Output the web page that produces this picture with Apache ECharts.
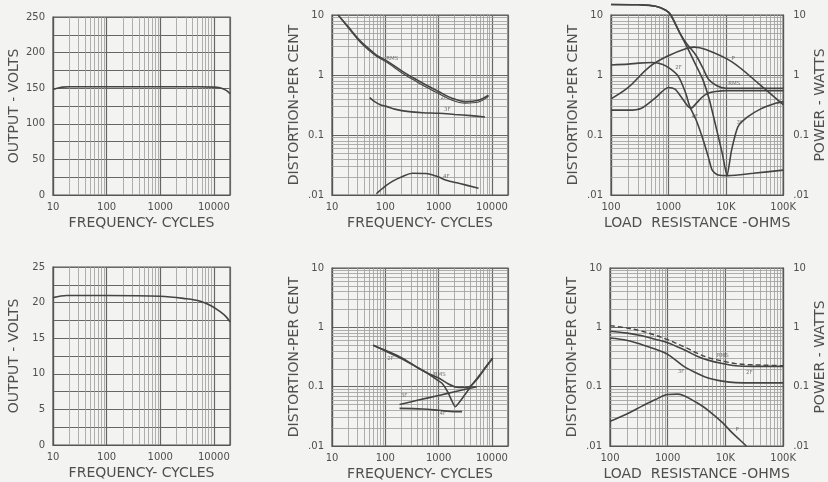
<!DOCTYPE html>
<html><head><meta charset="utf-8">
<script src="https://cdn.jsdelivr.net/npm/echarts@6/dist/echarts.min.js"></script>
<style>html,body{margin:0;padding:0;background:#f3f3f1;}#c{width:828px;height:482px;}</style>
</head><body><div id="c"></div>
<script>
// ---------------- DATA ----------------
const freqTickValues = [10, 100, 1000, 10000];
const freqTickLabels = ['10', '100', '1000', '10000'];
const loadTickValues = [100, 1000, 10000, 100000];
const loadTickLabels = ['100', '1000', '10K', '100K'];
const distTickValues = [0.01, 0.1, 1, 10];
const distTickLabels = ['.01', '0.1', '1', '10'];
const volts250Ticks = [0, 50, 100, 150, 200, 250];
const volts25Ticks = [0, 5, 10, 15, 20, 25];

// Panel A (top left): output volts vs frequency
const aFreq = [10, 12, 15, 20, 50, 100, 1000, 5000, 10000, 13000, 16000, 18500, 20000];
const aVolts = [148, 150, 151.5, 152, 152, 152, 152, 152, 151.5, 150.5, 148, 145, 142];

// Panel B (top middle): distortion vs frequency
const bRmsFreq = [13, 20, 33, 50, 68, 112, 213, 400, 580, 1000, 1780, 3160, 5600, 8600];
const bRmsVal = [10, 6.4, 3.8, 2.7, 2.15, 1.67, 1.14, 0.82, 0.68, 0.53, 0.41, 0.36, 0.38, 0.46];
const b2fFreq = [13, 20, 33, 50, 68, 112, 213, 400, 580, 1000, 1780, 3160, 5600, 8600];
const b2fVal = [10, 6.2, 3.6, 2.55, 2.05, 1.58, 1.06, 0.76, 0.63, 0.49, 0.38, 0.34, 0.355, 0.44];
const b3fFreq = [51, 63, 80, 104, 150, 280, 500, 1000, 2000, 4000, 7400];
const b3fVal = [0.42, 0.36, 0.32, 0.30, 0.27, 0.245, 0.235, 0.23, 0.22, 0.21, 0.20];
const b4fFreq = [68, 100, 138, 200, 325, 575, 1000, 1350, 2500, 5600];
const b4fVal = [0.0105, 0.014, 0.017, 0.020, 0.023, 0.0228, 0.020, 0.0178, 0.0155, 0.013];
const bNoteText = ['RMS', '2F', '3F', '4F'];
const bNoteX = [135, 1250, 1450, 1400];
const bNoteY = [1.9, 0.42, 0.27, 0.02];

// Panel C (top right): distortion / power vs load resistance
const cPowerLoad = [100, 200, 467, 1000, 2000, 2800, 4500, 12600, 40000, 100000];
const cPowerVal = [0.40, 0.62, 1.37, 2.1, 2.75, 2.92, 2.65, 1.67, 0.68, 0.32];
const cRmsLoad = [100, 300, 600, 900, 1100, 1600, 2100, 3000, 4000, 5000, 7000, 10000, 30000, 100000];
const cRmsVal = [15, 14.8, 14, 12, 10, 4.9, 3.3, 2.15, 1.3, 0.85, 0.66, 0.6, 0.6, 0.6];
const cNullLoad = [100, 300, 600, 900, 1100, 1600, 2100, 3100, 4000, 5200, 6700, 8700, 10500, 12600, 16300, 24000, 40000, 76000, 100000];
const cNullVal = [15, 14.8, 14, 12, 10, 4.9, 2.96, 1.38, 0.83, 0.38, 0.14, 0.049, 0.021, 0.056, 0.138, 0.2, 0.27, 0.34, 0.36];
const c2fLoad = [100, 200, 300, 530, 800, 1100, 1500, 2000, 2350, 3030, 4000, 5000, 5800, 7400, 11000, 30000, 100000];
const c2fVal = [1.47, 1.52, 1.58, 1.62, 1.5, 1.25, 0.94, 0.5, 0.30, 0.18, 0.085, 0.042, 0.026, 0.0215, 0.021, 0.023, 0.026];
const c4fLoad = [100, 200, 340, 600, 1000, 1300, 1700, 2200, 2500, 3000, 3900, 5000, 6600, 10000, 100000];
const c4fVal = [0.26, 0.26, 0.28, 0.42, 0.62, 0.58, 0.42, 0.30, 0.28, 0.33, 0.43, 0.5, 0.53, 0.55, 0.55];
const cNoteText = ['P', '2F', 'RMS', '4F', '3F'];
const cNoteX = [13500, 1500, 14000, 2900, 17500];
const cNoteY = [1.9, 1.35, 0.72, 0.2, 0.16];

// Panel D (bottom left): output volts vs frequency
const dFreq = [10, 18, 100, 1000, 3000, 5600, 8700, 13300, 17000, 20000];
const dVolts = [20.7, 21.0, 21.0, 20.9, 20.55, 20.2, 19.6, 18.7, 18.0, 17.3];

// Panel E (bottom middle): distortion vs frequency
const eRmsFreq = [59, 100, 213, 400, 610, 1000, 1500, 2150, 3000, 3800, 5500, 7800, 10300];
const eRmsVal = [0.5, 0.41, 0.3, 0.21, 0.17, 0.14, 0.112, 0.098, 0.097, 0.1, 0.14, 0.22, 0.30];
const e2fFreq = [59, 100, 213, 400, 610, 1000, 1170, 1500, 2050, 3000, 4400, 6000, 10300];
const e2fVal = [0.50, 0.40, 0.29, 0.21, 0.17, 0.125, 0.113, 0.08, 0.046, 0.07, 0.113, 0.16, 0.30];
const e3fFreq = [185, 400, 1000, 2000, 5200];
const e3fVal = [0.05, 0.059, 0.071, 0.082, 0.10];
const e4fFreq = [185, 500, 1000, 2000, 2750];
const e4fVal = [0.043, 0.042, 0.040, 0.038, 0.038];
const eNoteText = ['2F', 'RMS', '3F', '4F'];
const eNoteX = [125, 1050, 225, 1200];
const eNoteY = [0.30, 0.16, 0.072, 0.035];

// Panel F (bottom right): distortion / power vs load resistance
const fRmsLoad = [100, 200, 360, 600, 1000, 2000, 3160, 5000, 8800, 15000, 21500, 50000, 100000];
const fRmsVal = [1.07, 0.97, 0.86, 0.74, 0.62, 0.46, 0.37, 0.31, 0.27, 0.245, 0.237, 0.23, 0.226];
const f2fLoad = [100, 200, 360, 600, 1000, 2000, 3160, 5000, 8800, 15000, 30000, 100000];
const f2fVal = [0.86, 0.8, 0.72, 0.63, 0.55, 0.41, 0.33, 0.28, 0.245, 0.225, 0.22, 0.22];
const f3fLoad = [100, 200, 360, 600, 1000, 1900, 3160, 5000, 8800, 15000, 30000, 100000];
const f3fVal = [0.66, 0.6, 0.51, 0.43, 0.35, 0.22, 0.17, 0.14, 0.124, 0.117, 0.116, 0.116];
const f4fLoad = [100, 200, 360, 600, 1000, 1470, 3160, 5000, 8800, 13000, 18000, 23000];
const f4fVal = [0.026, 0.035, 0.047, 0.06, 0.074, 0.075, 0.054, 0.04, 0.025, 0.0168, 0.0125, 0.01];
const fNoteText = ['RMS', '2F', '3F', 'P'];
const fNoteX = [9000, 26000, 1700, 16000];
const fNoteY = [0.34, 0.17, 0.18, 0.019];

// ---------------- STYLE / HELPERS ----------------
const INK = '#444444';
const TEXT = '#4f4f4f';
const MINOR = '#9c9c9a';
const MAJOR = '#666666';
const FONT = 'DejaVu Sans';

function zip(xs, ys) { return xs.map((x, i) => [x, ys[i]]); }
function labelFor(v, vals, labels) {
  for (let i = 0; i < vals.length; i++) {
    if (Math.abs(v - vals[i]) <= Math.abs(vals[i]) * 1e-6 + 1e-12) return labels[i];
  }
  return '';
}
function logMinor(min, max) {
  const out = [];
  for (let e = Math.floor(Math.log10(min)); e <= Math.ceil(Math.log10(max)); e++) {
    for (let k = 2; k <= 9; k++) {
      const v = k * Math.pow(10, e);
      if (v > min * 1.0001 && v < max * 0.9999) out.push(v);
    }
  }
  return out;
}

const nameStyle = { color: TEXT, fontFamily: FONT, fontSize: 14 };
const labelStyle = { color: TEXT, fontFamily: FONT, fontSize: 10 };

const grids = [
  { left: 53, top: 17, width: 177, height: 178 },
  { left: 332, top: 15, width: 176, height: 180 },
  { left: 611, top: 15, width: 179, height: 180 },
  { left: 53, top: 267, width: 177, height: 178 },
  { left: 332, top: 268, width: 176, height: 178 },
  { left: 610, top: 268, width: 180, height: 179 }
].map(g => Object.assign({ show: true, borderColor: '#555555', borderWidth: 1.2, backgroundColor: 'transparent', containLabel: false }, g));

function logX(gi, min, max, vals, labels, name) {
  return {
    type: 'log', logBase: 10, gridIndex: gi, min, max,
    name, nameLocation: 'middle', nameGap: 21, nameTextStyle: nameStyle,
    axisLine: { show: true, lineStyle: { color: '#555555', width: 1.2 } },
    axisTick: { show: false },
    splitLine: { show: true, lineStyle: { color: MAJOR, width: 1.2 } },
    axisLabel: Object.assign({ margin: 7, formatter: v => labelFor(v, vals, labels), showMinLabel: true, showMaxLabel: true }, labelStyle)
  };
}
function logY(gi, name, pos) {
  return {
    type: 'log', logBase: 10, gridIndex: gi, min: 0.01, max: 10, position: pos || 'left',
    name, nameLocation: 'middle', nameGap: pos === 'right' ? 27 : 31, nameRotate: 90, nameTextStyle: nameStyle,
    axisLine: { show: true, lineStyle: { color: '#555555', width: 1.2 } },
    axisTick: { show: false },
    splitLine: { show: pos !== 'right', lineStyle: { color: MAJOR, width: 1.2 } },
    axisLabel: Object.assign({ margin: pos === 'right' ? 10 : 8, formatter: v => labelFor(v, distTickValues, distTickLabels) }, labelStyle)
  };
}
function linY(gi, max, interval, ticks, name) {
  return {
    type: 'value', gridIndex: gi, min: 0, max, interval,
    name, nameLocation: 'middle', nameGap: 32, nameRotate: 90, nameTextStyle: nameStyle,
    axisLine: { show: true, lineStyle: { color: '#555555', width: 1.2 } },
    axisTick: { show: false },
    splitLine: { show: true, lineStyle: { color: MAJOR, width: 1.1 } },
    axisLabel: Object.assign({ margin: 8, formatter: v => labelFor(v, ticks, ticks.map(String)) }, labelStyle)
  };
}

const xAxes = [
  logX(0, 10, 20000, freqTickValues, freqTickLabels, 'FREQUENCY- CYCLES'),
  logX(1, 10, 20000, freqTickValues, freqTickLabels, 'FREQUENCY- CYCLES'),
  logX(2, 100, 100000, loadTickValues, loadTickLabels, 'LOAD  RESISTANCE -OHMS'),
  logX(3, 10, 20000, freqTickValues, freqTickLabels, 'FREQUENCY- CYCLES'),
  logX(4, 10, 20000, freqTickValues, freqTickLabels, 'FREQUENCY- CYCLES'),
  logX(5, 100, 100000, loadTickValues, loadTickLabels, 'LOAD  RESISTANCE -OHMS')
];
const yAxes = [
  linY(0, 250, 25, volts250Ticks, 'OUTPUT - VOLTS'),
  logY(1, 'DISTORTION-PER CENT'),
  logY(2, 'DISTORTION-PER CENT'),
  linY(3, 25, 2.5, volts25Ticks, 'OUTPUT - VOLTS'),
  logY(4, 'DISTORTION-PER CENT'),
  logY(5, 'DISTORTION-PER CENT'),
  logY(2, 'POWER - WATTS', 'right'),
  logY(5, 'POWER - WATTS', 'right')
];

function gridLines(gi, axis, values, color, width) {
  return {
    type: 'line', xAxisIndex: gi, yAxisIndex: gi, data: [], silent: true, z: 1, animation: false,
    markLine: {
      silent: true, symbol: ['none', 'none'], animation: false, label: { show: false },
      lineStyle: { color, width, type: 'solid' },
      emphasis: { disabled: true },
      data: values.map(v => axis === 'x' ? { xAxis: v } : { yAxis: v })
    }
  };
}
function curve(gi, xs, ys, opts) {
  return Object.assign({
    type: 'line', xAxisIndex: gi, yAxisIndex: gi, data: zip(xs, ys), showSymbol: false, symbol: 'none',
    smooth: 0.35, z: 5, animation: false, silent: true,
    lineStyle: { color: INK, width: 1.6 }
  }, opts || {});
}
function notes(gi, texts, xs, ys) {
  return {
    type: 'scatter', xAxisIndex: gi, yAxisIndex: gi, z: 6, silent: true, animation: false,
    symbolSize: 0, data: xs.map((x, i) => ({ value: [x, ys[i]], name: texts[i] })),
    label: { show: true, position: 'inside', formatter: p => p.name, color: '#555', fontFamily: FONT, fontSize: 5.5 }
  };
}

const series = [];
// paper grid lines
[0, 1, 3, 4].forEach(gi => series.push(gridLines(gi, 'x', logMinor(10, 20000), MINOR, 0.8)));
[2, 5].forEach(gi => series.push(gridLines(gi, 'x', logMinor(100, 100000), MINOR, 0.8)));
[1, 2, 4, 5].forEach(gi => series.push(gridLines(gi, 'y', logMinor(0.01, 10), MINOR, 0.8)));

// curves
series.push(curve(0, aFreq, aVolts));
series.push(curve(1, bRmsFreq, bRmsVal));
series.push(curve(1, b2fFreq, b2fVal, { lineStyle: { color: INK, width: 1.2 } }));
series.push(curve(1, b3fFreq, b3fVal));
series.push(curve(1, b4fFreq, b4fVal));
series.push(curve(2, cPowerLoad, cPowerVal));
series.push(curve(2, cRmsLoad, cRmsVal, { clip: false }));
series.push(curve(2, cNullLoad, cNullVal, { clip: false, smooth: 0.2 }));
series.push(curve(2, c2fLoad, c2fVal, { smooth: 0.25 }));
series.push(curve(2, c4fLoad, c4fVal, { smooth: 0.25 }));
series.push(curve(3, dFreq, dVolts));
series.push(curve(4, eRmsFreq, eRmsVal, { smooth: 0.25 }));
series.push(curve(4, e2fFreq, e2fVal, { smooth: 0.15 }));
series.push(curve(4, e3fFreq, e3fVal));
series.push(curve(4, e4fFreq, e4fVal));
series.push(curve(5, fRmsLoad, fRmsVal, { lineStyle: { color: INK, width: 1.4, type: [5, 3] } }));
series.push(curve(5, f2fLoad, f2fVal));
series.push(curve(5, f3fLoad, f3fVal));
series.push(curve(5, f4fLoad, f4fVal));
series.push(notes(1, bNoteText, bNoteX, bNoteY));
series.push(notes(2, cNoteText, cNoteX, cNoteY));
series.push(notes(4, eNoteText, eNoteX, eNoteY));
series.push(notes(5, fNoteText, fNoteX, fNoteY));

const chart = echarts.init(document.getElementById('c'), null, { renderer: 'canvas' });
chart.setOption({
  backgroundColor: '#f3f3f1',
  animation: false,
  grid: grids,
  xAxis: xAxes,
  yAxis: yAxes,
  series
});
</script></body></html>
